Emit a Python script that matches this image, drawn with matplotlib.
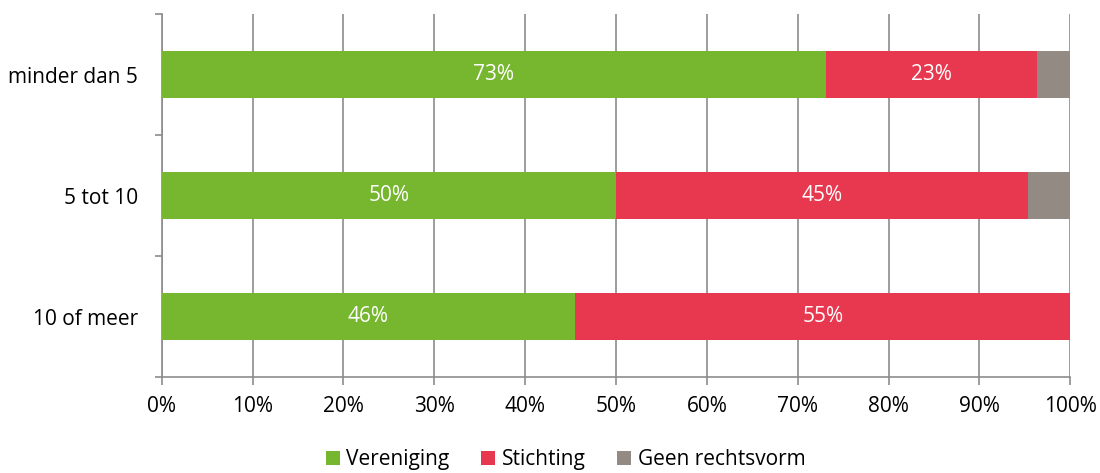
"""Rechtsvorm naar omvang: 100% gestapelde horizontale staafgrafiek."""

import matplotlib

matplotlib.use("Agg")
import matplotlib.pyplot as plt
import numpy as np

plt.rcParams["font.family"] = ["Open Sans", "DejaVu Sans"]

CATEGORIES = ["minder dan 5", "5 tot 10", "10 of meer"]
SERIES = ["Vereniging", "Stichting", "Geen rechtsvorm"]
VERENIGING = [73.1, 50.0, 45.5]
STICHTING = [23.2, 45.3, 54.5]
GEEN = [3.7, 4.7, 0.0]
COLORS = ["#76B72F", "#E8384F", "#938A84"]

FS = 15

fig, ax = plt.subplots(figsize=(11, 4.73), dpi=100)
fig.subplots_adjust(left=0.147, right=0.973, top=0.970, bottom=0.203)

y = np.arange(len(CATEGORIES))
left = np.zeros(len(CATEGORIES))
for name, vals, color in zip(SERIES, [VERENIGING, STICHTING, GEEN], COLORS):
    vals = np.array(vals)
    ax.barh(y, vals, left=left, height=0.39, color=color, label=name, zorder=3)
    if name != "Geen rechtsvorm":
        for yi, l, v in zip(y, left, vals):
            ax.text(l + v / 2, yi, f"{int(v + 0.5)}%", ha="center", va="center",
                    color="white", fontsize=FS, zorder=4)
    left += vals

ax.set_xlim(0, 100)
ax.set_ylim(2.5, -0.5)
ax.set_xticks(np.arange(0, 101, 10))
ax.set_xticklabels([f"{t}%" for t in range(0, 101, 10)], fontsize=FS)
ax.set_yticks(y)
ax.set_yticklabels(CATEGORIES, fontsize=FS)
ax.set_yticks([-0.5, 0.5, 1.5, 2.5], minor=True)
ax.tick_params(axis="y", which="major", length=0, pad=17)
ax.tick_params(axis="y", which="minor", length=5, color="#8c8c8c", width=1.2)
ax.tick_params(axis="x", length=6, color="#8c8c8c", width=1.2, pad=8)

ax.grid(axis="x", color="#8c8c8c", linewidth=1.2, zorder=0)
for side in ["top", "right"]:
    ax.spines[side].set_visible(False)
for side in ["left", "bottom"]:
    ax.spines[side].set_color("#8c8c8c")
    ax.spines[side].set_linewidth(1.2)

fig.legend(loc="center", bbox_to_anchor=(0.514, 0.028), ncol=3, frameon=False,
           fontsize=FS, handlelength=0.7, handleheight=0.7, handletextpad=0.3,
           columnspacing=1.5, borderpad=0)

fig.savefig("out.png", dpi=100)
